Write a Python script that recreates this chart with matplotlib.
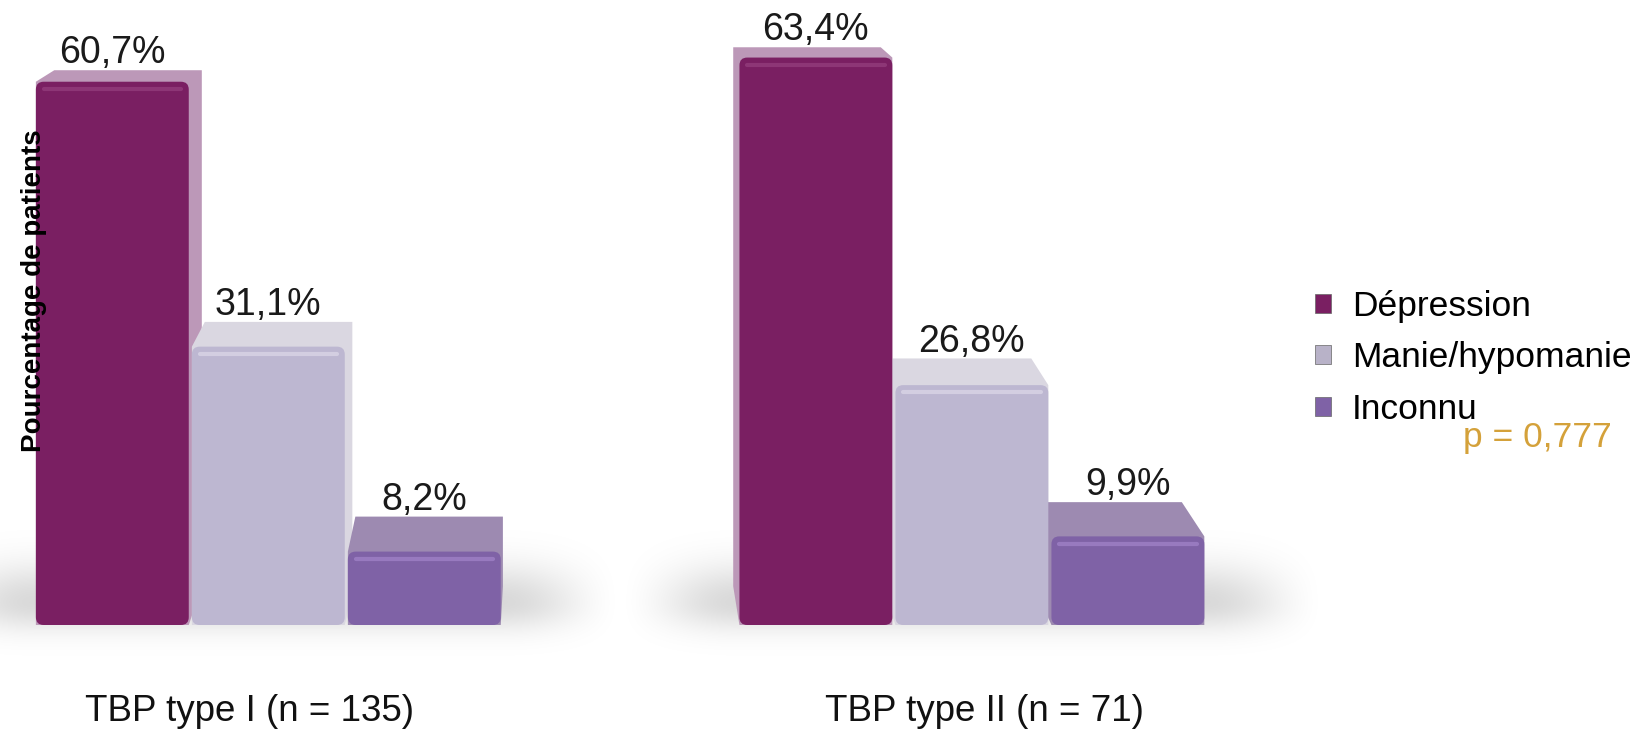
import numpy as np
import matplotlib.pyplot as plt
from matplotlib.patches import FancyBboxPatch, Polygon, Patch

plt.rcParams['font.family'] = ['Liberation Sans', 'DejaVu Sans']

# Data: share of patients by polarity of the first episode
groups = ["TBP type I (n = 135)", "TBP type II (n = 71)"]
series = ["Dépression", "Manie/hypomanie", "Inconnu"]
depression = [60.7, 63.4]
manie = [31.1, 26.8]
inconnu = [8.2, 9.9]
p_text = "p = 0,777"

front_colors = ["#7A1F62", "#BDB7D1", "#7F62A6"]
back_colors = ["#BC98B8", "#DAD7E1", "#9D8AB1"]
shine_colors = ["#9A4684", "#E2DEEC", "#A98BD0"]
legend_colors = ["#7A1F62", "#B8B2C8", "#7F62A6"]

fig = plt.figure(figsize=(16.39, 7.34), dpi=100)
ax = fig.add_axes([0, 0, 1, 1])

px_x = 156.0   # pixels per x unit
px_y = 8.95    # pixels per percent
xmin, ymin = -1.72, -12.18
xmax = xmin + 1639 / px_x
ymax = ymin + 734 / px_y

group_x = np.array([0.0, 4.51])
label_shift = [-0.12, 0.08]
offsets = [-1, 0, 1]
width = 0.98
vanish = np.array([1.88, 86.4])
depth = np.array([0.035, 0.05])


def hull(points):
    pts = sorted(map(tuple, points))
    def cross(o, a, b):
        return (a[0] - o[0]) * (b[1] - o[1]) - (a[1] - o[1]) * (b[0] - o[0])
    lower, upper = [], []
    for p in pts:
        while len(lower) >= 2 and cross(lower[-2], lower[-1], p) <= 0:
            lower.pop()
        lower.append(p)
    for p in reversed(pts):
        while len(upper) >= 2 and cross(upper[-2], upper[-1], p) <= 0:
            upper.pop()
        upper.append(p)
    return lower[:-1] + upper[:-1]


# soft floor shadow under each group
xs = np.linspace(-2.3, 2.3, 300)
ys = np.linspace(-6, 12, 240)
t = np.clip((2.3 - np.abs(xs)) / 0.8, 0, 1)
hx = t * t * (3 - 2 * t)
sig = np.where(ys > 2.5, 3.0, 2.2)
vy = np.exp(-0.5 * ((ys - 2.5) / sig) ** 2)
shade = np.zeros((len(ys), len(xs), 4))
shade[..., 3] = 0.15 * np.outer(vy, hx)
for gx in group_x:
    ax.imshow(shade, extent=[gx - 2.3, gx + 2.3, -6, 12], origin='lower',
              aspect='auto', interpolation='bilinear', zorder=0)

values = [depression, manie, inconnu]
fronts = []
for i, vals in enumerate(values):
    for gx, v in zip(group_x, vals):
        x0 = gx + offsets[i] - width / 2
        x1 = x0 + width
        corners = np.array([[x0, 0], [x1, 0], [x1, v], [x0, v]])
        back = corners + depth * (vanish - corners)
        ax.add_patch(Polygon(hull(np.vstack([corners, back])), closed=True,
                             facecolor=back_colors[i], edgecolor='none', zorder=1))
        fronts.append((i, x0, x1, v, back[2:, :]))

for i, x0, x1, v, back_top in fronts:
    ax.add_patch(FancyBboxPatch((x0, 0), x1 - x0, v,
                                boxstyle="round,pad=0,rounding_size=0.05",
                                mutation_aspect=px_x / px_y,
                                facecolor=front_colors[i], edgecolor='none', zorder=2))
    # glossy rim along the top edge
    ax.plot([x0 + 0.05, x1 - 0.05], [v - 0.8, v - 0.8], color=shine_colors[i],
            lw=3, alpha=0.6, solid_capstyle='round', zorder=3)
    label = f"{v:.1f}".replace(".", ",") + "%"
    ax.annotate(label, ((x0 + x1) / 2, back_top[:, 1].max()), xytext=(0, 5),
                textcoords='offset points', ha='center', va='baseline',
                fontsize=27, color='#1A1A1A', zorder=5)

for gx, dx, name in zip(group_x, label_shift, groups):
    ax.text(gx + dx, -9.72, name, ha='center', va='center', fontsize=26.5, color='#111111')

ax.text(-1.50, 37.4, "Pourcentage de patients", rotation=90, ha='center',
        va='center', fontsize=20, fontweight='bold', color='black', zorder=10)

handles = [Patch(facecolor=c, edgecolor='#666666', linewidth=0.5) for c in legend_colors]
fig.legend(handles, series, loc='upper left', bbox_to_anchor=(1315 / 1639, 0.605),
           frameon=False, fontsize=25.5, handlelength=0.45, handleheight=0.45,
           handletextpad=0.6, labelspacing=0.52, borderpad=0, borderaxespad=0)

fig.text(1537 / 1639, 297 / 734, p_text, ha='center', va='center',
         fontsize=25.5, color='#D4A13A')

ax.set_xlim(xmin, xmax)
ax.set_ylim(ymin, ymax)
ax.axis('off')

fig.savefig("out.png", dpi=100)
